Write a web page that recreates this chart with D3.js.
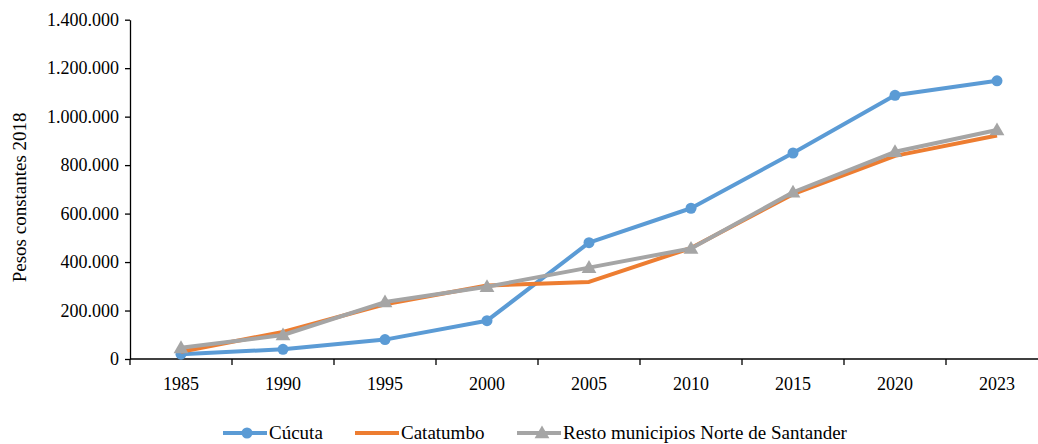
<!DOCTYPE html>
<html>
<head>
<meta charset="utf-8">
<script src="https://cdn.jsdelivr.net/npm/d3@7"></script>
<style>
  html, body { margin: 0; padding: 0; background: #fff; }
  svg { display: block; }
  svg text { font-family: "Liberation Serif", "Times New Roman", "DejaVu Serif", serif; }
</style>
</head>
<body>
<svg id="chart" width="1038" height="444"></svg>
<script>
// Ingreso per cápita, pesos constantes de 2018
const years = ["1985", "1990", "1995", "2000", "2005", "2010", "2015", "2020", "2023"];
const cucuta = [20000, 40000, 80000, 158000, 480000, 622000, 850000, 1088000, 1148000];
const catatumbo = [30000, 112000, 226000, 303000, 318000, 458000, 680000, 838000, 922000];
const resto = [46000, 99000, 235000, 298000, 377000, 456000, 688000, 855000, 945000];
const yTicks = [0, 200000, 400000, 600000, 800000, 1000000, 1200000, 1400000];

const series = [
  { name: "Cúcuta", values: cucuta, color: "#5B9BD5", marker: "circle" },
  { name: "Catatumbo", values: catatumbo, color: "#ED7D31", marker: null },
  { name: "Resto municipios Norte de Santander", values: resto, color: "#A5A5A5", marker: "triangle" }
];

const FONT = "Liberation Serif, Times New Roman, DejaVu Serif, serif";
const svg = d3.select("#chart");
const plotLeft = 130, plotTop = 19.7, plotBottom = 359, plotRight = 1048;

const x = d3.scaleBand().domain(years).range([plotLeft, plotRight]).paddingInner(0).paddingOuter(0);
const y = d3.scaleLinear().domain([0, 1400000]).range([plotBottom, plotTop]);

const fmt = v => d3.format(",")(v).replace(/,/g, ".");

// Y axis
const yAxis = svg.append("g")
  .attr("transform", `translate(${plotLeft},0)`)
  .call(d3.axisLeft(y).tickValues(yTicks).tickFormat(fmt).tickSize(5).tickSizeOuter(0).tickPadding(6));
yAxis.attr("font-family", FONT);
yAxis.select(".domain").attr("stroke", "#000").attr("stroke-width", 1.3);
yAxis.selectAll(".tick line").attr("stroke", "#000").attr("stroke-width", 1.3);
yAxis.selectAll("text").attr("font-size", 18).attr("fill", "#000").attr("font-family", FONT);

// X axis: tick marks on category boundaries, labels centred in each band
const xg = svg.append("g").attr("transform", `translate(0,${plotBottom})`);
xg.append("line").attr("x1", plotLeft).attr("x2", plotRight).attr("y1", 0).attr("y2", 0)
  .attr("stroke", "#000").attr("stroke-width", 1.3);
xg.selectAll(".tk").data(years).join("line")
  .attr("class", "tk")
  .attr("x1", d => x(d)).attr("x2", d => x(d))
  .attr("y1", 0).attr("y2", 6)
  .attr("stroke", "#000").attr("stroke-width", 1.3);
xg.selectAll(".lbl").data(years).join("text")
  .attr("class", "lbl")
  .attr("x", d => x(d) + x.bandwidth() / 2)
  .attr("y", 31)
  .attr("text-anchor", "middle")
  .attr("font-family", FONT)
  .attr("font-size", 18)
  .attr("fill", "#000")
  .text(d => d);

// Y axis title
svg.append("text")
  .attr("transform", `translate(26,${(plotTop + plotBottom) / 2 + 8}) rotate(-90)`)
  .attr("text-anchor", "middle")
  .attr("font-family", FONT)
  .attr("font-size", 19)
  .attr("fill", "#000")
  .text("Pesos constantes 2018");

const cx = d => x(d) + x.bandwidth() / 2;
const line = d3.line().x((v, i) => cx(years[i])).y(v => y(v));
const tri = d3.symbol().type(d3.symbolTriangle).size(95);

// Series lines and markers, drawn in legend order
series.forEach(s => {
  const g = svg.append("g");
  g.append("path")
    .datum(s.values)
    .attr("d", line)
    .attr("fill", "none")
    .attr("stroke", s.color)
    .attr("stroke-width", 4)
    .attr("stroke-linejoin", "round");
  if (s.marker === "circle") {
    g.selectAll("circle").data(s.values).join("circle")
      .attr("cx", (v, i) => cx(years[i]))
      .attr("cy", v => y(v))
      .attr("r", 5.5)
      .attr("fill", s.color);
  } else if (s.marker === "triangle") {
    g.selectAll("path.m").data(s.values).join("path")
      .attr("class", "m")
      .attr("d", tri)
      .attr("transform", (v, i) => `translate(${cx(years[i])},${y(v) + 1})`)
      .attr("fill", s.color);
  }
});

// Legend along the bottom edge
const legendPos = [223, 355, 517];
const legend = svg.append("g").attr("transform", "translate(0,433)");
series.forEach((s, i) => {
  const g = legend.append("g").attr("transform", `translate(${legendPos[i]},0)`);
  g.append("line").attr("x1", 0).attr("x2", 44).attr("y1", 0).attr("y2", 0)
    .attr("stroke", s.color).attr("stroke-width", 4);
  if (s.marker === "circle") {
    g.append("circle").attr("cx", 24).attr("cy", 0).attr("r", 5.5).attr("fill", s.color);
  } else if (s.marker === "triangle") {
    g.append("path").attr("d", tri).attr("transform", "translate(25,1)").attr("fill", s.color);
  }
  g.append("text").attr("x", 46).attr("y", 6.3).attr("font-family", FONT)
    .attr("font-size", 19).attr("fill", "#000").text(s.name);
});
</script>
</body>
</html>
